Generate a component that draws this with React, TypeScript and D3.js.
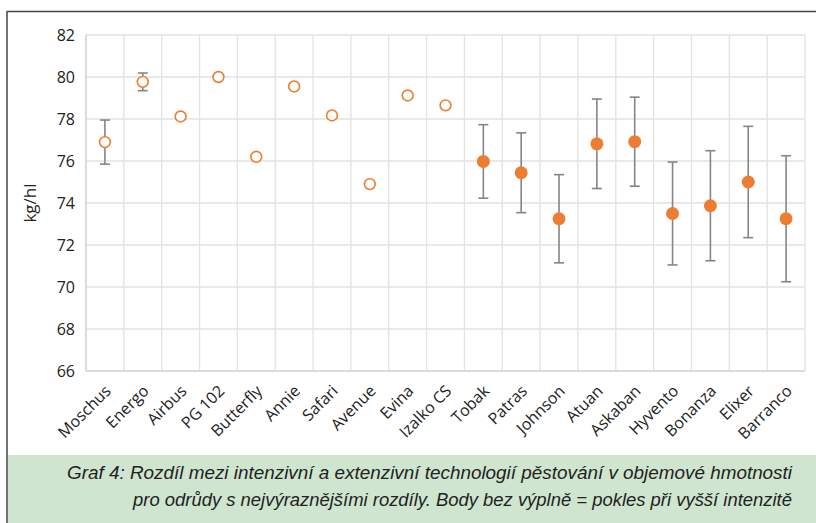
import React from "react";
import * as d3 from "d3";

const categories = ["Moschus", "Energo", "Airbus", "PG 102", "Butterfly", "Annie", "Safari", "Avenue", "Evina", "Izalko CS", "Tobak", "Patras", "Johnson", "Atuan", "Askaban", "Hyvento", "Bonanza", "Elixer", "Barranco"];
const values = [76.9, 79.77, 78.12, 80.0, 76.2, 79.55, 78.17, 74.9, 79.12, 78.65, 75.98, 75.44, 73.25, 76.82, 76.92, 73.5, 73.87, 75.0, 73.25];
const errors = [1.05, 0.42, 0.12, 0, 0, 0, 0, 0, 0, 0, 1.75, 1.9, 2.1, 2.13, 2.12, 2.45, 2.62, 2.65, 3.0];
const filled = [false, false, false, false, false, false, false, false, false, false, true, true, true, true, true, true, true, true, true];
const yTicks = [66, 68, 70, 72, 74, 76, 78, 80, 82];
const yLabel = "kg/hl";
const captionLine1 = "Graf 4: Rozdíl mezi intenzivní a extenzivní technologií pěstování v objemové hmotnosti";
const captionLine2 = "pro odrůdy s nejvýraznějšími rozdíly. Body bez výplně = pokles při vyšší intenzitě";

const W = 816, H = 523;
const left = 86, right = 805, top = 35, bottom = 371;
const orange = "#ED7D31";
const grid = "#e2e2e2";
const font = "'Open Sans', 'Noto Sans', sans-serif";
const capFont = "'Liberation Sans', Arial, sans-serif";

export default function App() {
  const x = d3.scaleBand<string>().domain(categories).range([left, right]);
  const y = d3.scaleLinear().domain([66, 82]).range([bottom, top]);
  const bw = x.bandwidth();
  return (
    <svg width={W} height={H} style={{ position: "absolute", left: 0, top: 0 }}>
      <rect x={0} y={0} width={W} height={H} fill="#fff" />
      <rect x={8} y={455} width={W - 8} height={H - 455} fill="#cfe5cf" />
      <line x1={7} y1={11.5} x2={W} y2={11.5} stroke="#444" strokeWidth={1.5} />
      <line x1={7} y1={11} x2={7} y2={H} stroke="#444" strokeWidth={1.5} />
      {/* grid */}
      {yTicks.map((t) => (
        <line key={"h" + t} x1={left} x2={right} y1={y(t)} y2={y(t)} stroke={grid} strokeWidth={1.3} />
      ))}
      {categories.map((c) => (
        <line key={"v" + c} x1={x(c)!} x2={x(c)!} y1={top} y2={bottom} stroke={grid} strokeWidth={1.3} />
      ))}
      <line x1={right} x2={right} y1={top} y2={bottom} stroke={grid} strokeWidth={1.3} />
      <line x1={left} x2={right} y1={bottom} y2={bottom} stroke="#d6d6d6" strokeWidth={1.5} />
      <line x1={left} x2={left} y1={top} y2={bottom} stroke="#d6d6d6" strokeWidth={1.5} />
      {/* y ticks */}
      {yTicks.map((t) => (
        <text key={"yt" + t} x={75} y={y(t)} dy="0.36em" textAnchor="end" fontFamily={font} fontSize={16} fill="#222">
          {t}
        </text>
      ))}
      <text transform={`translate(36,${(top + bottom) / 2}) rotate(-90)`} textAnchor="middle" fontFamily={font} fontSize={17} fill="#222">
        {yLabel}
      </text>
      {/* x labels */}
      {categories.map((c) => {
        const cx = x(c)! + bw / 2 + 7;
        const cy = 392;
        return (
          <text key={"xl" + c} transform={`translate(${cx},${cy}) rotate(-45)`} textAnchor="end" fontFamily={font} fontSize={16} fill="#222">
            {c}
          </text>
        );
      })}
      {/* error bars */}
      {categories.map((c, i) => {
        if (!errors[i]) return null;
        const cx = x(c)! + bw / 2;
        const y1 = y(values[i] + errors[i]);
        const y2 = y(values[i] - errors[i]);
        return (
          <g key={"e" + c} stroke="#858585" strokeWidth={1.6}>
            <line x1={cx} x2={cx} y1={y1} y2={y2} />
            <line x1={cx - 5} x2={cx + 5} y1={y1} y2={y1} />
            <line x1={cx - 5} x2={cx + 5} y1={y2} y2={y2} />
          </g>
        );
      })}
      {/* points */}
      {categories.map((c, i) => {
        const cx = x(c)! + bw / 2;
        const cy = y(values[i]);
        return filled[i] ? (
          <circle key={"p" + c} cx={cx} cy={cy} r={6.5} fill={orange} />
        ) : (
          <circle key={"p" + c} cx={cx} cy={cy} r={5.4} fill="#fff" stroke={orange} strokeWidth={1.6} />
        );
      })}
      {/* caption */}
      <text x={67} y={479} fontFamily={capFont} fontStyle="italic" fontSize={18} fill="#222" textLength={725} lengthAdjust="spacingAndGlyphs">
        {captionLine1}
      </text>
      <text x={133} y={506} fontFamily={capFont} fontStyle="italic" fontSize={18} fill="#222" textLength={659} lengthAdjust="spacingAndGlyphs">
        {captionLine2}
      </text>
    </svg>
  );
}
